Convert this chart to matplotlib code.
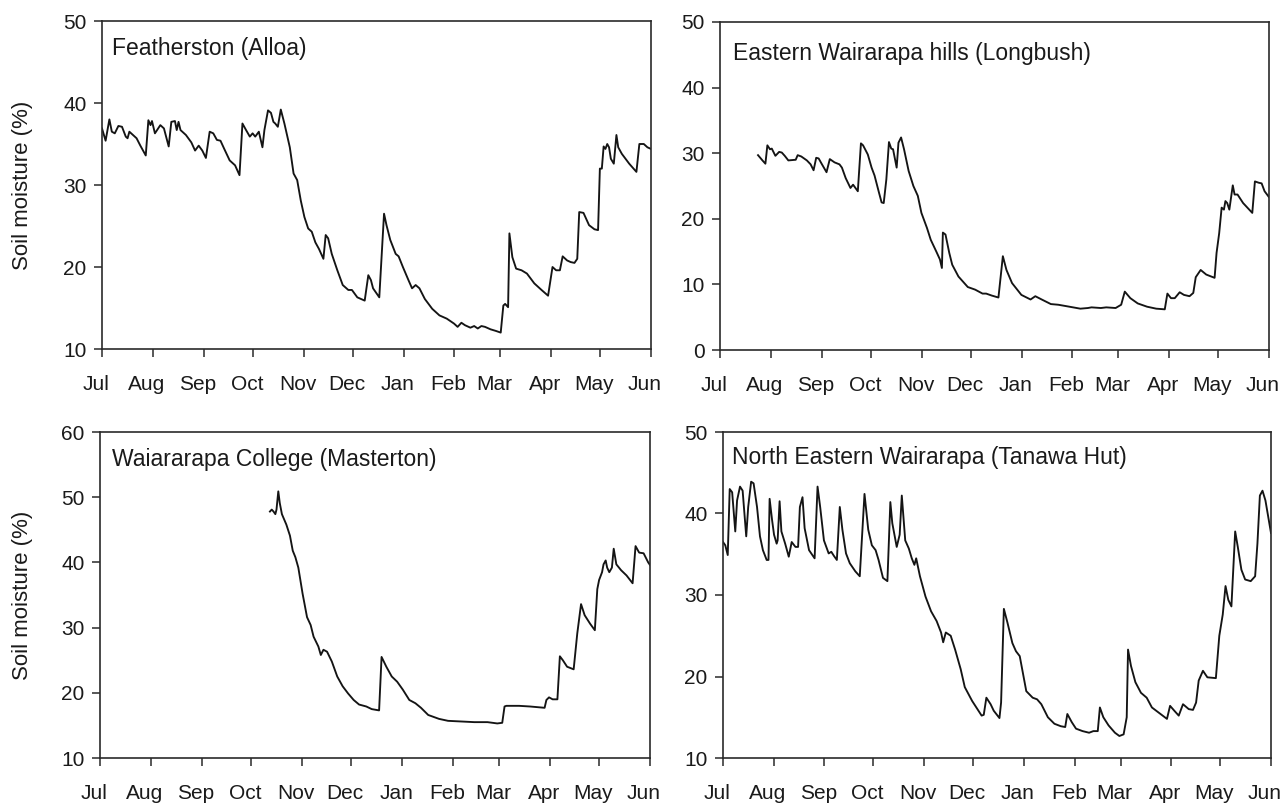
import matplotlib
matplotlib.use("Agg")
import matplotlib.pyplot as plt
from matplotlib.transforms import ScaledTranslation

# days counted from 1 July, soil moisture in %
month_labels = ['Jul', 'Aug', 'Sep', 'Oct', 'Nov', 'Dec', 'Jan', 'Feb', 'Mar', 'Apr', 'May', 'Jun']
month_starts = [0, 31, 62, 92, 123, 153, 184, 215, 243, 274, 304, 335]

alloa_day = [0, 2.2, 4.5, 6.0, 7.8, 10.0, 12.2, 14.5, 15.6, 16.7,
             18.9, 21.1, 23.4, 26.7, 28.3, 29.6, 30.5, 32.3, 35.6, 37.8,
             40.7, 42.3, 44.5, 45.6, 46.7, 47.9, 51.2, 54.5, 56.8, 59.0,
             61.2, 63.4, 65.7, 67.9, 70.1, 72.3, 74.6, 77.9, 81.2, 83.9,
             85.7, 87.9, 90.2, 91.9, 93.5, 95.7, 97.9, 99.1, 101.3, 103.1,
             104.6, 105.7, 107.3, 109.1, 111.3, 114.6, 116.9, 119.1, 121.3, 123.5,
             125.8, 128.0, 130.2, 132.4, 135.1, 136.5, 138.0, 140.2, 143.6, 146.9,
             150.3, 152.5, 155.8, 160.3, 162.5, 164.1, 165.4, 169.2, 172.1, 173.6,
             175.9, 179.2, 181.0, 183.6, 187.0, 189.2, 191.4, 193.7, 197.0, 201.5,
             205.9, 210.4, 214.8, 217.0, 219.3, 221.5, 224.8, 227.1, 229.3, 231.5,
             233.7, 237.1, 240.4, 243.3, 244.9, 246.0, 247.8, 248.6, 250.4, 252.7,
             256.0, 259.3, 263.8, 268.2, 272.2, 274.9, 277.1, 279.4, 281.1, 283.8,
             286.0, 288.3, 290.0, 291.2, 293.8, 297.2, 300.5, 302.7, 303.8, 305.0,
             306.1, 307.2, 308.3, 309.4, 310.5, 312.3, 313.9, 315.0, 317.2, 321.7,
             326.1, 327.9, 330.6, 332.8, 335.0]
alloa_sm = [36.9, 35.4, 38.0, 36.5, 36.3, 37.2, 37.1, 35.9, 35.7, 36.5,
            36.1, 35.7, 34.8, 33.6, 37.9, 37.3, 37.8, 36.3, 37.3, 36.9,
            34.7, 37.7, 37.8, 36.7, 37.7, 36.7, 36.1, 35.2, 34.2, 34.8,
            34.2, 33.3, 36.5, 36.3, 35.5, 35.4, 34.4, 33.0, 32.4, 31.2,
            37.5, 36.7, 35.9, 36.3, 35.9, 36.5, 34.6, 36.7, 39.1, 38.8,
            37.7, 37.5, 37.1, 39.2, 37.5, 34.6, 31.4, 30.6, 28.1, 26.1,
            24.7, 24.3, 23.0, 22.2, 21.0, 23.9, 23.5, 21.6, 19.6, 17.8,
            17.2, 17.2, 16.3, 15.9, 19.0, 18.4, 17.4, 16.3, 26.5, 25.1,
            23.3, 21.6, 21.3, 20.0, 18.4, 17.4, 17.8, 17.4, 16.1, 14.9,
            14.1, 13.7, 13.1, 12.7, 13.2, 12.9, 12.6, 12.8, 12.5, 12.8,
            12.7, 12.4, 12.2, 12.0, 15.3, 15.5, 15.1, 24.1, 21.2, 19.8,
            19.6, 19.2, 18.0, 17.2, 16.5, 20.0, 19.6, 19.6, 21.3, 20.8,
            20.6, 20.5, 21.0, 26.7, 26.6, 25.1, 24.6, 24.5, 32.0, 32.0,
            34.7, 34.4, 35.0, 34.6, 33.2, 32.6, 36.1, 34.6, 33.8, 32.6,
            31.6, 35.0, 35.0, 34.6, 34.4]

longbush_day = [23.2, 25.9, 27.7, 28.9, 30.5, 31.6, 33.8, 36.1, 37.7, 39.5,
                41.7, 46.2, 47.4, 49.6, 53.0, 55.3, 57.1, 58.7, 60.2, 62.0,
                65.0, 67.0, 69.9, 72.9, 74.4, 76.7, 79.6, 81.2, 84.1, 86.0,
                87.3, 90.2, 92.5, 94.3, 97.0, 98.6, 99.9, 101.5, 103.1, 104.5,
                105.6, 107.8, 108.9, 110.5, 112.3, 115.1, 118.0, 120.7, 122.9, 126.3,
                128.6, 132.0, 134.2, 135.4, 136.0, 137.6, 139.9, 141.7, 145.5, 151.2,
                155.7, 160.2, 162.4, 165.8, 169.9, 172.6, 174.8, 178.2, 183.9, 189.5,
                192.4, 196.3, 201.9, 206.4, 213.2, 219.9, 224.5, 226.7, 232.4, 235.7,
                241.4, 244.8, 247.0, 250.4, 254.9, 260.6, 266.2, 271.4, 273.0, 275.2,
                277.5, 280.5, 283.1, 286.5, 288.8, 290.3, 293.3, 296.7, 301.8, 303.0,
                304.6, 306.1, 307.5, 308.4, 309.5, 310.8, 312.9, 314.0, 315.8, 319.2,
                324.8, 326.4, 328.7, 330.5, 332.3, 335.0]
longbush_sm = [29.7, 28.9, 28.4, 31.2, 30.6, 30.7, 29.6, 30.2, 30.1, 29.6,
               28.9, 29.0, 29.7, 29.5, 28.9, 28.3, 27.4, 29.3, 29.2, 28.4,
               27.1, 29.1, 28.6, 28.3, 27.8, 26.2, 24.7, 25.2, 24.2, 31.5,
               31.2, 29.8, 27.8, 26.6, 24.0, 22.5, 22.4, 26.0, 31.7, 30.7,
               30.6, 27.8, 31.6, 32.4, 30.6, 27.3, 25.0, 23.5, 20.9, 18.6,
               16.8, 15.0, 13.8, 12.5, 17.9, 17.6, 14.8, 13.0, 11.2, 9.6,
               9.2, 8.6, 8.6, 8.3, 8.0, 14.3, 12.2, 10.2, 8.4, 7.7,
               8.2, 7.7, 7.0, 6.9, 6.6, 6.3, 6.4, 6.5, 6.4, 6.5,
               6.4, 6.9, 8.9, 7.9, 7.1, 6.6, 6.3, 6.2, 8.6, 7.9,
               7.9, 8.8, 8.4, 8.2, 8.7, 11.1, 12.2, 11.5, 11.0, 14.8,
               17.8, 21.7, 21.4, 22.7, 22.4, 21.4, 25.1, 23.7, 23.7, 22.4,
               20.9, 25.7, 25.5, 25.4, 24.2, 23.3]

masterton_day = [103.5, 104.6, 105.7, 106.8, 107.5, 108.6, 109.5, 110.8, 113.5, 115.7,
                 117.4, 119.0, 120.8, 123.4, 126.1, 128.3, 130.1, 133.0, 134.5, 136.1,
                 138.3, 141.2, 144.5, 147.8, 151.1, 154.5, 157.8, 162.2, 165.5, 170.0,
                 171.5, 174.4, 177.7, 181.0, 184.4, 188.4, 192.1, 195.5, 199.9, 206.5,
                 212.0, 220.0, 228.0, 236.0, 242.0, 245.0, 246.4, 247.5, 255.3, 261.9,
                 270.8, 271.9, 273.5, 275.7, 278.6, 280.1, 281.9, 284.5, 288.5, 290.7,
                 293.0, 295.2, 298.5, 301.4, 302.9, 304.0, 305.8, 306.7, 308.0, 308.9,
                 310.2, 311.8, 312.9, 314.5, 317.4, 320.7, 324.4, 326.2, 328.4, 331.1,
                 333.9, 335.0]
masterton_sm = [47.8, 48.1, 47.8, 47.4, 48.1, 50.9, 49.1, 47.4, 45.8, 44.1,
                41.8, 40.8, 39.2, 35.2, 31.6, 30.4, 28.6, 27.1, 25.8, 26.6,
                26.3, 24.8, 22.5, 21.0, 19.9, 18.9, 18.2, 17.9, 17.5, 17.3,
                25.5, 24.0, 22.5, 21.7, 20.5, 18.9, 18.4, 17.7, 16.6, 16.0,
                15.7, 15.6, 15.5, 15.5, 15.3, 15.4, 17.9, 18.0, 18.0, 17.9,
                17.7, 18.9, 19.3, 19.0, 19.0, 25.6, 25.0, 24.0, 23.6, 29.1,
                33.6, 31.9, 30.6, 29.6, 35.9, 37.3, 38.5, 39.7, 40.3, 39.2,
                38.5, 39.2, 42.1, 39.7, 38.8, 38.0, 36.8, 42.5, 41.5, 41.4,
                40.0, 39.6]

tanawa_day = [0, 1.4, 2.9, 4.1, 5.6, 7.5, 8.6, 10.4, 12.0, 14.2,
              15.4, 17.2, 18.7, 20.8, 22.6, 24.4, 26.7, 27.8, 28.5, 30.0,
              31.2, 32.8, 33.4, 34.6, 35.7, 38.0, 40.2, 42.0, 44.3, 45.9,
              47.0, 48.6, 49.9, 52.6, 56.0, 57.8, 59.4, 61.7, 64.6, 66.2,
              67.8, 69.6, 71.4, 73.0, 75.2, 77.5, 80.9, 83.6, 86.5, 88.8,
              91.0, 93.3, 95.1, 97.8, 100.5, 102.3, 103.5, 106.2, 108.0, 109.3,
              111.4, 113.6, 115.4, 117.0, 118.1, 120.4, 123.8, 127.2, 130.6, 133.3,
              134.6, 136.2, 139.2, 141.9, 145.3, 147.8, 152.3, 156.2, 158.1, 159.4,
              161.0, 163.6, 165.5, 169.0, 170.0, 171.7, 173.9, 176.9, 179.1, 181.4,
              185.4, 189.3, 192.0, 194.6, 198.6, 202.6, 206.5, 209.2, 210.5, 213.2,
              215.8, 219.8, 223.8, 226.4, 229.1, 230.4, 232.5, 235.7, 239.6, 242.3,
              244.9, 246.8, 247.6, 249.4, 252.1, 255.5, 259.0, 262.2, 266.1, 270.1,
              271.4, 273.3, 275.9, 278.6, 281.2, 284.7, 287.3, 289.2, 290.8, 293.4,
              296.1, 301.3, 303.4, 305.5, 307.2, 308.9, 310.8, 313.1, 314.7, 316.9,
              319.2, 322.6, 325.3, 326.7, 328.2, 329.8, 331.6, 335.0]
tanawa_sm = [36.5, 36.1, 34.9, 43.0, 42.6, 37.8, 41.6, 43.3, 42.8, 37.2,
             40.8, 43.9, 43.7, 40.8, 37.2, 35.5, 34.3, 34.3, 41.8, 39.2,
             37.4, 36.3, 36.7, 41.5, 37.8, 36.3, 34.7, 36.5, 35.9, 35.9,
             40.8, 42.0, 38.2, 35.5, 34.5, 43.3, 40.8, 36.7, 35.1, 35.3,
             34.8, 34.3, 40.8, 38.0, 35.1, 33.9, 32.9, 32.3, 42.4, 38.0,
             36.1, 35.5, 34.3, 32.1, 31.7, 41.4, 38.8, 35.9, 37.4, 42.2,
             36.7, 35.7, 34.5, 33.7, 34.5, 32.3, 29.8, 28.0, 26.8, 25.4,
             24.2, 25.4, 25.0, 23.3, 20.9, 18.7, 17.0, 15.8, 15.2, 15.3,
             17.4, 16.6, 15.8, 14.9, 16.8, 28.3, 26.6, 24.1, 23.1, 22.5,
             18.2, 17.4, 17.2, 16.6, 15.0, 14.2, 13.9, 13.8, 15.4, 14.4,
             13.6, 13.3, 13.1, 13.3, 13.3, 16.2, 15.0, 14.0, 13.1, 12.7,
             12.9, 15.0, 23.3, 21.3, 19.3, 18.0, 17.4, 16.2, 15.6, 15.0,
             14.8, 16.4, 15.8, 15.2, 16.6, 16.0, 15.9, 16.8, 19.5, 20.7,
             19.9, 19.8, 25.0, 27.6, 31.1, 29.4, 28.6, 37.8, 35.9, 33.1,
             31.9, 31.7, 32.3, 36.3, 42.2, 42.8, 41.6, 37.6]

W, H = 1281, 805
fig = plt.figure(figsize=(W / 100, H / 100), dpi=100)

text_font = ['Liberation Sans', 'DejaVu Sans']
ink = '#1a1a1a'


def rect(x0, x1, y0, y1):
    return [x0 / W, 1 - y1 / H, (x1 - x0) / W, (y1 - y0) / H]


panels = [
    (rect(102, 651, 21, 349), alloa_day, alloa_sm, 'Featherston (Alloa)', (10, 50), (10.5, 27.5)),
    (rect(720, 1269, 22, 350), longbush_day, longbush_sm, 'Eastern Wairarapa hills (Longbush)', (0, 50), (13, 31.5)),
    (rect(100, 650, 432, 758), masterton_day, masterton_sm, 'Waiararapa College (Masterton)', (10, 60), (12, 27.5)),
    (rect(723, 1271, 432, 758), tanawa_day, tanawa_sm, 'North Eastern Wairarapa (Tanawa Hut)', (10, 50), (8.5, 25.5)),
]

# month names sit a little left of their tick marks
shift_left = ScaledTranslation(-6 / 100, 0, fig.dpi_scale_trans)

for box, days, sm, name, ylim, (dx, dy) in panels:
    ax = fig.add_axes(box)
    ax.plot(days, sm, color='#141414', lw=1.35)
    ax.set_xlim(0, 335)
    ax.set_ylim(*ylim)
    ax.set_xticks(month_starts)
    ax.set_xticklabels(month_labels)
    ax.set_yticks(range(ylim[0], ylim[1] + 1, 10))
    for s in ax.spines.values():
        s.set_color('#2a2a2a')
        s.set_linewidth(1.2)
    ax.tick_params(direction='out', length=6, width=1.1, color='#2a2a2a')
    ax.tick_params(axis='x', pad=13)
    ax.tick_params(axis='y', pad=5)
    for lab in ax.get_xticklabels() + ax.get_yticklabels():
        lab.set_family(text_font)
        lab.set_fontsize(15)
        lab.set_color(ink)
    for lab in ax.get_xticklabels():
        lab.set_transform(lab.get_transform() + shift_left)
    ax.annotate(name, xy=(0, 1), xycoords='axes fraction',
                xytext=(dx * 0.72, -dy * 0.72), textcoords='offset points',
                ha='left', va='center', fontsize=16.5, family=text_font, color=ink)

for yc in [(21 + 349) / 2, (432 + 758) / 2]:
    fig.text(23 / W, 1 - yc / H, 'Soil moisture (%)', rotation=90, ha='center', va='center',
             fontsize=16, family=text_font, color=ink)

fig.savefig('out.png', dpi=100)
